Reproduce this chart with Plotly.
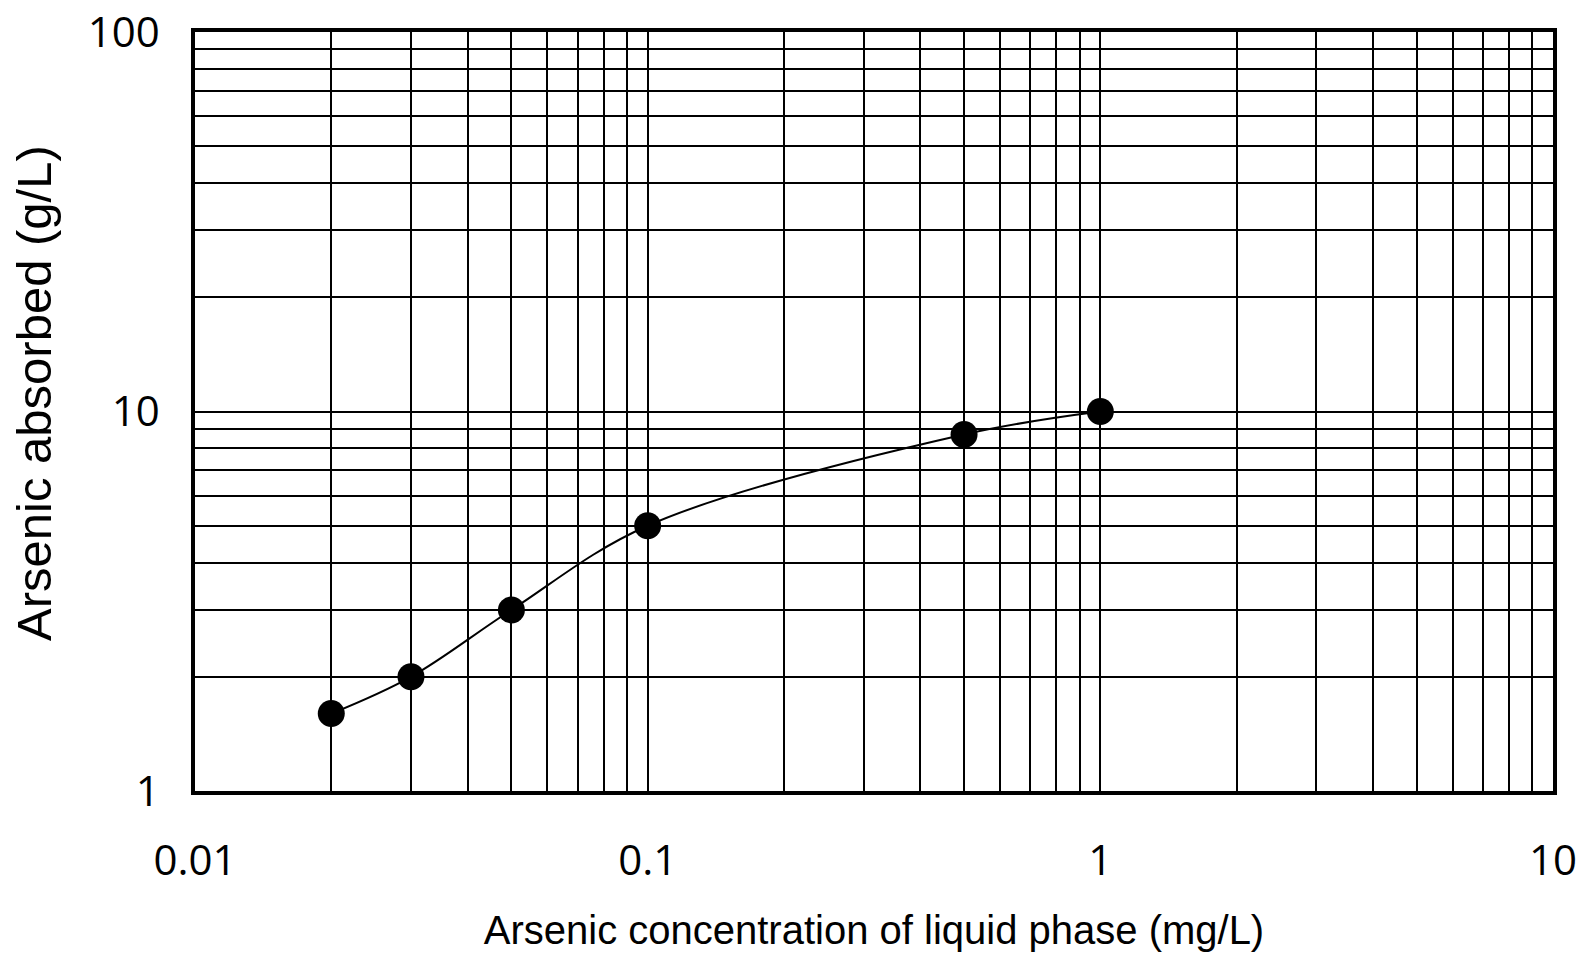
import plotly.graph_objects as go

# Data
conc_liquid = [0.02, 0.03, 0.05, 0.1, 0.5, 1.0]          # mg/L
arsenic_absorbed = [1.6, 2.0, 3.0, 5.0, 8.7, 10.0]       # g/L

x_tickvals = [m * 10 ** e for e in (-2, -1, 0) for m in range(1, 10)] + [10]
x_ticktext = ["0.01"] + [""] * 8 + ["0.1"] + [""] * 8 + ["1"] + [""] * 8 + ["10"]
y_tickvals = [m * 10 ** e for e in (0, 1) for m in range(1, 10)] + [100]
y_ticktext = ["1"] + [""] * 8 + ["10"] + [""] * 8 + ["100"]

x_title = "Arsenic concentration of liquid phase (mg/L)"
y_title = "Arsenic absorbed (g/L)"

TICK_FONT = "Open Sans"
TITLE_FONT = "Liberation Sans, Arial"

fig = go.Figure()
fig.add_trace(go.Scatter(
    x=conc_liquid, y=arsenic_absorbed,
    mode="lines+markers",
    line=dict(color="black", width=2, shape="spline", smoothing=1.0),
    marker=dict(color="black", size=27),
    showlegend=False,
))

axis_common = dict(
    type="log",
    tickmode="array",
    automargin=False,
    showgrid=True, gridcolor="black", gridwidth=2,
    showline=True, linecolor="black", linewidth=3.5, mirror=True,
    ticks="", zeroline=False,
    ticklabeloverflow="allow",
    tickfont=dict(family=TICK_FONT, size=42, color="black"),
)

fig.update_xaxes(
    **axis_common,
    range=[-2, 1],
    tickvals=x_tickvals, ticktext=x_ticktext,
    ticklabelstandoff=30,
    title=dict(text=x_title,
               font=dict(family=TITLE_FONT, size=40, color="black"), standoff=31),
)
fig.update_yaxes(
    **axis_common,
    range=[0, 2],
    tickvals=y_tickvals, ticktext=y_ticktext,
    ticklabelstandoff=23,
)

fig.add_annotation(
    text=y_title, textangle=-90,
    xref="paper", yref="paper", x=0, y=0.5245,
    xanchor="center", yanchor="middle", xshift=-161,
    showarrow=False,
    font=dict(family=TITLE_FONT, size=49, color="black"),
)

fig.update_layout(
    width=1575, height=944,
    margin=dict(l=187, r=30, t=24, b=161),
    paper_bgcolor="white", plot_bgcolor="white",
)

fig.write_html("out.html")
